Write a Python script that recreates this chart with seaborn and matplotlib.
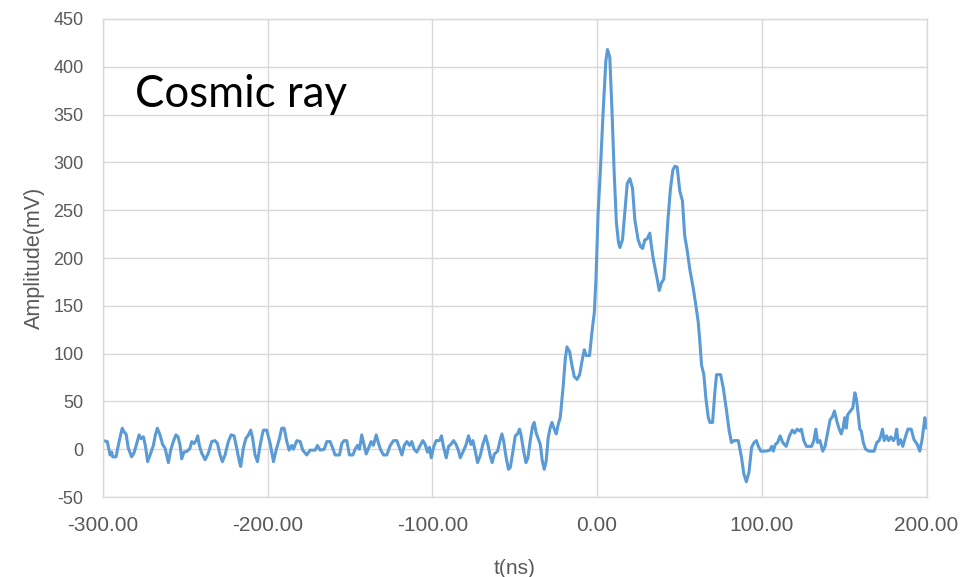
import matplotlib
matplotlib.use("Agg")
import matplotlib.pyplot as plt
import pandas as pd
import seaborn as sns

# Oscilloscope trace of a cosmic-ray pulse (time in ns, amplitude in mV)
t_ns = [
    -300.0, -297.4, -295.7, -294.7, -294.1, -292.1, -290.7, -289.3, -288.3, -287.2,
    -286.0, -284.6, -282.6, -281.2, -279.5, -278.1, -276.9, -275.5, -274.3, -272.9,
    -271.4, -269.4, -268.2, -267.0, -265.4, -263.8, -262.3, -260.3, -258.9, -257.3,
    -255.7, -254.4, -253.2, -252.2, -250.8, -248.8, -247.2, -246.1, -244.7, -243.5,
    -242.5, -241.5, -240.1, -238.0, -236.0, -234.0, -232.0, -230.5, -228.9, -227.5,
    -225.9, -223.9, -222.2, -220.4, -218.8, -217.2, -216.4, -214.8, -213.3, -211.7,
    -210.3, -209.1, -207.7, -206.2, -204.6, -203.2,
    -202.6, -200.6, -198.5, -196.5, -194.9, -192.9, -191.5, -190.0, -188.4, -187.0,
    -185.4, -184.4, -182.3, -180.3, -178.7, -176.3, -174.2, -171.2, -169.8, -168.2,
    -165.7, -164.1, -162.1, -160.5, -159.1, -156.4, -155.0, -153.6, -152.0, -150.4,
    -148.3, -146.9, -145.5, -144.3, -142.9, -141.4, -140.2, -138.8, -137.2, -135.8,
    -134.1, -132.7, -131.3, -129.7, -127.7, -125.6, -123.6, -121.6, -119.9, -118.5,
    -117.1, -115.5, -113.9, -112.5, -111.1, -109.5, -107.4,
    -105.8, -104.4, -103.0, -101.8, -100.7, -99.3, -97.7, -95.7, -94.5, -93.2,
    -91.6, -90.2, -88.8, -87.2, -85.6, -84.1, -83.1, -81.5, -79.5, -78.1,
    -76.6, -75.4, -74.0, -72.6, -71.0, -69.4, -67.7, -66.3, -64.9, -63.7,
    -62.4, -60.4, -58.8, -57.8, -56.8, -55.2, -53.8, -52.7, -51.1, -49.7,
    -48.3, -47.1, -46.3, -44.6, -43.2, -42.0, -40.6, -39.2, -38.2, -37.0,
    -35.5, -34.5, -33.3, -32.1, -30.9, -29.7, -28.4, -27.4, -26.0, -24.8,
    -23.6, -22.4,
    -20.7, -19.3, -18.3, -16.7, -15.3, -13.9, -12.2, -10.6, -9.2, -7.8,
    -6.6, -4.6, -3.1, -1.7, -0.7,
    0.6, 2.0, 3.6, 5.3, 6.3, 7.7, 9.1, 10.3, 11.7, 13.0,
    13.8, 15.4, 16.8, 18.3, 19.9, 21.5, 22.9, 24.9, 26.4, 27.6,
    29.0, 30.4, 32.0, 33.0, 34.1, 35.7, 36.7, 37.7, 39.1, 40.5,
    41.5, 43.0, 44.5, 46.0, 47.2, 48.6, 50.2, 51.8, 53.2, 54.6,
    56.3, 58.4, 60.0, 61.4, 62.4, 63.4, 64.8, 66.0, 67.5, 68.5,
    70.1, 71.5, 72.5, 75.0, 76.6, 78.6, 80.2, 81.6, 83.1, 85.7,
    87.7, 89.1, 90.6, 92.2, 93.8, 95.3, 96.7, 97.9, 99.4, 102.5,
    104.9, 106.0, 107.0, 108.2, 109.6, 111.1, 112.7, 114.8, 116.8, 118.5,
    119.9, 121.4, 123.0, 124.0, 125.5, 127.1, 130.2, 131.6, 132.8, 133.9,
    135.3, 137.0, 138.4, 139.8, 141.5, 142.9, 144.1, 145.6, 147.0, 148.2,
    149.3, 150.3, 151.3, 152.1, 153.8, 155.2, 156.5, 157.5, 158.5, 159.5,
    160.4, 161.6, 163.0, 165.1, 168.2, 169.8, 171.2, 172.3, 173.3, 174.3,
    175.8, 177.0, 178.4, 179.9, 180.9, 181.9, 182.9, 184.2, 185.6, 187.0,
    188.7, 190.7, 192.4, 194.4, 195.9, 197.3, 199.0, 200.0,
]
amp_mv = [
    9, 8, -6, -3, -8, -8, 4, 15, 22, 18,
    16, 1, -8, -4, 6, 15, 11, 13, 4, -13,
    -6, 4, 15, 22, 15, 5, 1, -14, -1, 8,
    15, 13, 4, -10, -3, -2, 1, 8, 6, 9,
    14, 4, -4, -11, -4, 8, 9, 6, -6, -13,
    -6, 8, 15, 14, 1, -13, -18, 1, 11, 15,
    20, 11, -6, -13, 4, 16,
    20, 20, 6, -13, -1, 11, 22, 22, 8, -1,
    4, 0, 9, 8, -1, -6, -1, -1, 4, -1,
    0, 8, 8, 1, -6, -6, 6, 9, 9, -6,
    -6, 0, 4, 0, 15, 4, -5, 1, 8, 4,
    15, 6, -1, -6, -6, 4, 9, 9, 1, -6,
    4, 8, 4, 8, 0, -3, 4,
    9, 5, -3, 2, -9, 2, 9, 9, 14, 2,
    -9, 3, 5, 9, 5, -2, -9, -3, 5, 14,
    5, 9, -2, -14, -7, 5, 14, 5, -7, -14,
    -5, -2, 10, 16, 9, -9, -21, -19, -2, 14,
    16, 21, 16, -2, -14, -9, 9, 24, 28, 17,
    10, 5, -12, -21, -12, 12, 23, 28, 21, 16,
    26, 33,
    64, 95, 107, 102, 88, 76, 73, 78, 92, 104,
    98, 98, 123, 143, 178,
    247, 292, 351, 406, 418, 410, 351, 292, 237, 216,
    211, 219, 247, 278, 283, 273, 240, 219, 212, 210,
    219, 220, 226, 212, 199, 185, 176, 166, 174, 178,
    200, 240, 272, 292, 296, 295, 270, 260, 223, 209,
    188, 168, 150, 133, 112, 88, 78, 54, 33, 28,
    28, 60, 78, 78, 64, 40, 19, 7, 9, 9,
    -9, -26, -34, -24, 2, 7, 9, 3, -2, -2,
    -1, 3, -2, 5, 7, 14, 7, 3, 14, 20,
    17, 21, 19, 21, 9, 3, 3, 9, 21, 7,
    9, -2, 3, 16, 31, 34, 40, 29, 21, 16,
    22, 33, 22, 36, 40, 43, 59, 52, 36, 21,
    19, 7, 0, -2, -2, 7, 9, 14, 21, 9,
    14, 9, 13, 9, 12, 21, 5, 10, 3, 12,
    21, 21, 10, 5, -2, 10, 33, 22,
]

x_ticks = [-300, -200, -100, 0, 100, 200]
x_tick_labels = ["-300.00", "-200.00", "-100.00", "0.00", "100.00", "200.00"]
y_ticks = [-50, 0, 50, 100, 150, 200, 250, 300, 350, 400, 450]

sns.set_theme(style="white")
plt.rcParams["font.family"] = ["Liberation Sans", "DejaVu Sans"]

grid_gray = "#D9D9D9"
text_gray = "#595959"

fig = plt.figure(figsize=(9.79, 5.77), dpi=100)
ax = fig.add_axes([0.1052, 0.1386, 0.8412, 0.8285])

trace = pd.DataFrame({"t": t_ns, "amp": amp_mv})
sns.lineplot(data=trace, x="t", y="amp", ax=ax, color="#5B9BD5",
             linewidth=2.2, estimator=None, sort=False)

ax.set_xlim(-300, 200)
ax.set_ylim(-50, 450)
ax.set_xticks(x_ticks)
ax.set_xticklabels(x_tick_labels, fontsize=15, color=text_gray)
ax.set_yticks(y_ticks)
ax.set_yticklabels([str(v) for v in y_ticks], fontsize=13, color=text_gray)
ax.tick_params(axis="both", length=0)
ax.tick_params(axis="y", pad=14)
ax.tick_params(axis="x", pad=14)

ax.grid(True, color=grid_gray, linewidth=1)
ax.set_axisbelow(True)
for spine in ax.spines.values():
    spine.set_color(grid_gray)
    spine.set_linewidth(1)

ax.set_xlabel("t(ns)", fontsize=15, color=text_gray, labelpad=17)
ax.set_ylabel("Amplitude(mV)", fontsize=15.5, color=text_gray, labelpad=6)

ax.text(-280.5, 358, "Cosmic ray", family=["Lato", "DejaVu Sans"],
        fontsize=31.5, color="black", ha="left", va="baseline")

fig.savefig("out.png", dpi=100)
